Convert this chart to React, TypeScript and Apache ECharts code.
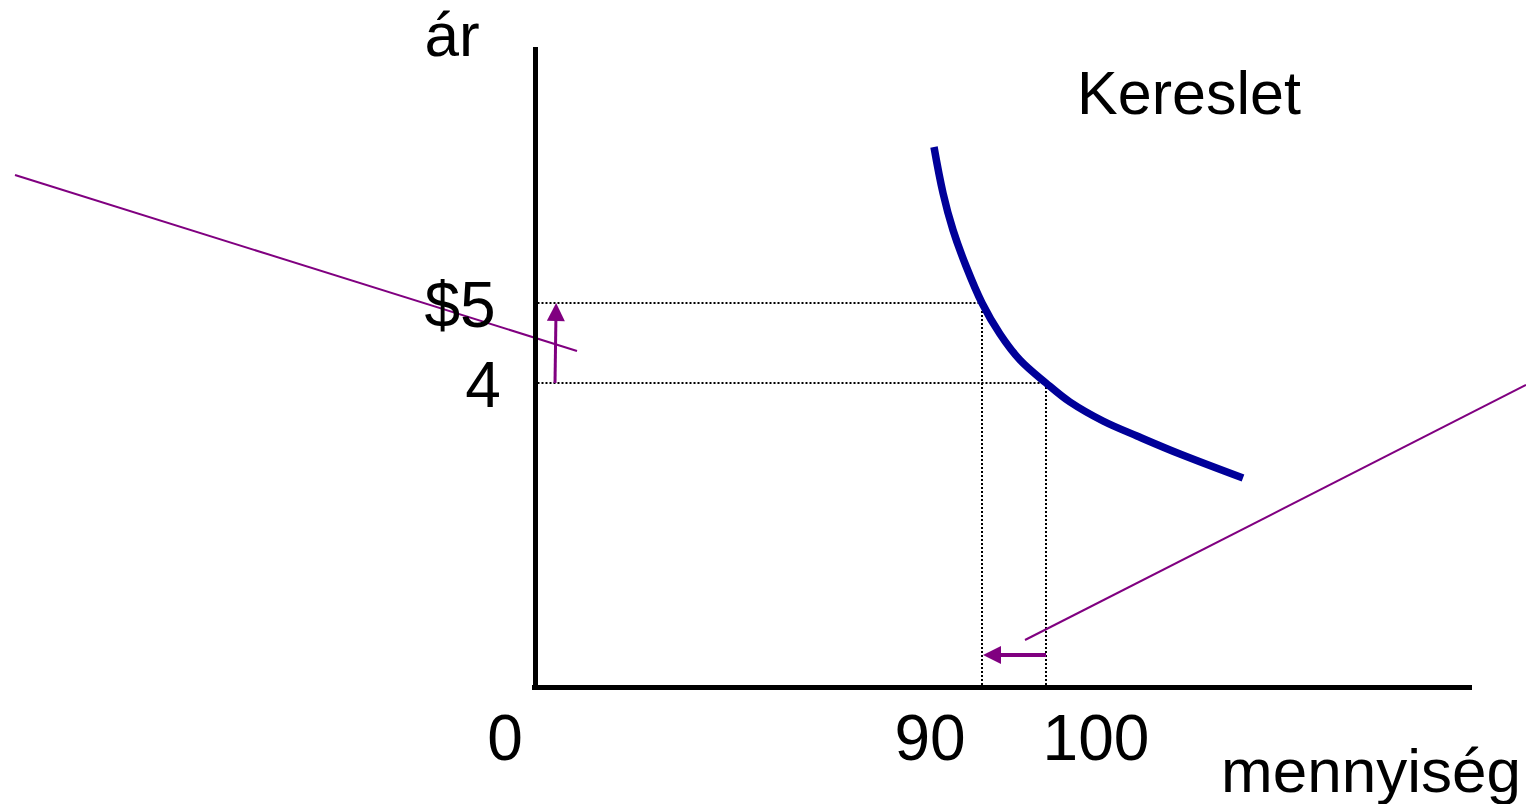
import React, { useEffect, useRef } from "react";
import * as echarts from "echarts";

// Schematic units (1 unit = 10 px of the original slide), origin at the corner of the axes.
const xRange: [number, number] = [-53.5, 99.1];
const yRange: [number, number] = [-11.7, 68.7];

// Key market values on the schematic
const q90 = 44.7; // quantity 90
const q100 = 51.1; // quantity 100
const p5 = 38.4; // price $5
const p4 = 30.4; // price 4

// Demand curve ("Kereslet")
const demandCurve: [number, number][] = [
  [39.9, 54.0],
  [40.8, 49.4],
  [41.8, 45.7],
  [43.1, 42.1],
  [q90, p5],
  [46.5, 35.3],
  [48.5, 32.7],
  [q100, p4],
  [53.5, 28.5],
  [56.8, 26.6],
  [60.2, 25.1],
  [64.5, 23.3],
  [70.8, 20.9],
];

// Axes
const xAxisLine: [number, number][] = [[-0.3, 0], [93.7, 0]];
const yAxisLine: [number, number][] = [[0, -0.3], [0, 64.0]];

// Dotted guide lines
const guideLines: [number, number][][] = [
  [[0.25, p5], [q90, p5]],
  [[0.25, p4], [q100, p4]],
  [[q90, p5], [q90, 0]],
  [[q100, p4], [q100, 0]],
];

// Thin purple lines
const purpleLines: [number, number][][] = [
  [[-52.0, 51.2], [4.2, 33.6]],
  [[49.0, 4.7], [99.1, 30.2]],
];

// Purple arrows (price up, quantity down)
const priceArrow: [number, number][] = [[2.0, 30.4], [2.1, 37.5]];
const quantityArrow: [number, number][] = [[51.1, 3.2], [45.7, 3.2]];

// Text labels
const labelTexts = ["ár", "$5", "4", "0", "90", "100", "Kereslet", "mennyiség"];
const labelX = [-8.3, -7.5, -5.2, -3.0, 39.5, 56.1, 65.4, 83.6];
const labelY = [65.3, 38.2, 30.2, -5.1, -5.1, -5.1, 59.4, -8.3];
const labelSizes = [62, 64, 64, 64, 64, 64, 61, 62];

const FONT = 'Arial, "Liberation Sans", Helvetica, sans-serif';
const PURPLE = "#800080";
const BLACK = "#000000";
const BLUE = "#000099";

export default function App() {
  const ref = useRef<HTMLDivElement>(null);

  useEffect(() => {
    if (!ref.current) return;
    const chart = echarts.init(ref.current, undefined, { renderer: "svg" });

    const option: any = {
      animation: false,
      backgroundColor: "#ffffff",
      grid: { left: 0, right: 0, top: 0, bottom: 0, containLabel: false },
      xAxis: { type: "value", min: xRange[0], max: xRange[1], show: false },
      yAxis: { type: "value", min: yRange[0], max: yRange[1], show: false },
      series: [
        {
          type: "lines",
          coordinateSystem: "cartesian2d",
          silent: true,
          lineStyle: { color: BLACK, width: 2, type: [2, 2], opacity: 1 },
          data: guideLines.map((c) => ({ coords: c })),
          z: 1,
        },
        {
          type: "lines",
          coordinateSystem: "cartesian2d",
          silent: true,
          lineStyle: { color: PURPLE, width: 2, opacity: 1 },
          data: purpleLines.map((c) => ({ coords: c })),
          z: 2,
        },
        {
          type: "lines",
          coordinateSystem: "cartesian2d",
          silent: true,
          lineStyle: { color: BLACK, width: 5, opacity: 1 },
          data: [{ coords: xAxisLine }, { coords: yAxisLine }],
          z: 3,
        },
        {
          type: "lines",
          coordinateSystem: "cartesian2d",
          silent: true,
          symbol: ["none", "triangle"],
          symbolSize: 18,
          lineStyle: { color: PURPLE, width: 3, opacity: 1 },
          itemStyle: { color: PURPLE },
          data: [
            { coords: priceArrow, lineStyle: { width: 3, color: PURPLE, opacity: 1 } },
            { coords: quantityArrow, lineStyle: { width: 4, color: PURPLE, opacity: 1 } },
          ],
          z: 4,
        },
        {
          type: "custom",
          coordinateSystem: "cartesian2d",
          silent: true,
          clip: false,
          data: demandCurve,
          encode: { x: 0, y: 1 },
          renderItem: (params: any, api: any) => {
            if (params.dataIndex !== 0) return null;
            const pts = demandCurve.map((p) => api.coord(p));
            return {
              type: "polyline",
              shape: { points: pts, smooth: 0.35 },
              style: { stroke: BLUE, lineWidth: 7.5, fill: "none", lineCap: "butt" },
            };
          },
          z: 5,
        },
      ],
    };

    chart.setOption(option);

    const graphic = labelTexts.map((t, i) => {
      const [px, py] = chart.convertToPixel({ gridIndex: 0 }, [labelX[i], labelY[i]]) as number[];
      return {
        type: "text",
        x: px,
        y: py,
        silent: true,
        z: 10,
        style: {
          text: t,
          fill: BLACK,
          fontSize: labelSizes[i],
          fontFamily: FONT,
          align: "center",
          verticalAlign: "middle",
        },
      };
    });
    chart.setOption({ graphic });

    return () => chart.dispose();
  }, []);

  return (
    <div
      ref={ref}
      style={{ position: "fixed", left: 0, top: 0, width: 1526, height: 804 }}
    />
  );
}
